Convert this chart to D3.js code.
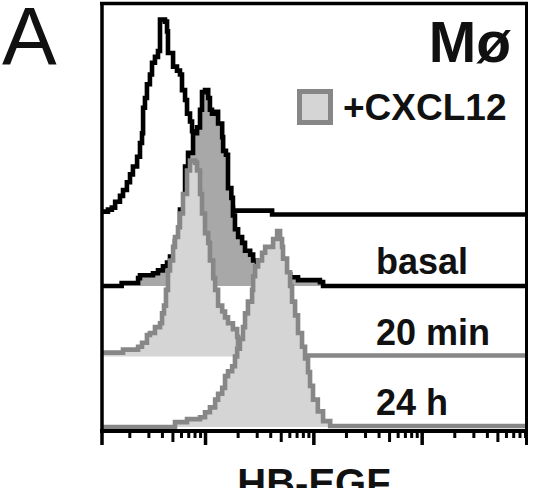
<!DOCTYPE html>
<html>
<head>
<meta charset="utf-8">
<script src="https://cdn.jsdelivr.net/npm/d3@7"></script>
<style>
body { margin: 0; background: #fff; }
text { font-family: "Liberation Sans", Arial, Helvetica, sans-serif; fill: #111; }
</style>
</head>
<body>
<div id="container"></div>
<script>
// HB-EGF intensity vs % of max
var isotype = [[1.12,2],[1.27,3],[1.38,4],[1.48,7],[1.64,10],[1.75,13],[1.90,17],[2.03,21],[2.16,25],
    [2.36,30],[2.51,37],[2.62,42],[2.68,55],[2.79,60],[2.91,67],[3.10,72],[3.24,78],[3.45,81],[3.68,84],
    [3.84,100],[4.27,99],[4.46,94],[4.55,83],[4.96,83],[5.07,76],[5.51,74],[5.87,72],[6.13,64],[6.54,59],
    [6.82,52],[7.27,48],[7.59,43],[8.09,36],[8.99,28],[10.0,20],[11.1,15],[12.4,11],[13.8,8],[15.3,5.5],
    [17.0,4],[18.1,2.5],[37.4,2.5],[41.6,0.5],[9400,0]];

var basal = [[1.12,0],[1.70,1.5],[2.41,4],[2.51,5.5],[3.31,6.5],[3.68,8],[4.09,10],[4.46,12],[4.75,15],
    [5.28,23],[5.87,39],[6.54,61],[6.97,68],[7.75,78],[8.44,81],[8.99,90],[9.38,99],[10.0,100],[10.7,96],
    [11.1,90],[11.6,88],[12.4,89],[13.2,83],[14.4,76],[14.7,69],[15.6,67],[16.3,50],[17.5,45],[18.1,36],
    [18.9,29],[20.2,25],[22.0,22],[23.4,18],[26.1,16],[27.8,13],[30.2,11],[35.9,8],[44.3,6],[61.0,4.5],
    [72.2,3],[115,2],[123,0],[9400,0]];

var min20 = [[1.12,2],[1.75,3.5],[2.41,5],[2.62,7],[2.91,11],[3.10,12],[3.45,15],[3.84,17],[4.01,22],
    [4.18,26],[4.36,34],[4.55,44],[4.75,49],[5.07,56],[5.28,61],[5.63,66],[5.87,73],[6.26,83],[6.82,95],
    [7.27,100],[8.09,99],[8.44,95],[8.99,83],[9.38,73],[10.0,63],[10.7,58],[11.1,49],[11.9,40],[12.4,34],
    [13.2,26],[14.4,23],[15.3,20],[16.3,17],[18.1,14],[19.8,10],[20.2,6.5],[21.5,3],[23.4,1],[39.8,0.5],
    [9400,0]];

var h24 = [[1.12,0],[4.96,0],[5.28,2.5],[6.82,4],[8.99,5],[10.0,7.5],[11.1,10],[12.4,14],[13.2,17],
    [14.4,20],[15.3,26],[16.3,28.5],[17.8,31],[18.9,36],[19.8,40],[21.0,45],[22.4,51],[23.4,58],[24.9,64],
    [27.2,70],[27.8,77],[29.0,82],[30.9,85],[33.6,89],[35.9,92],[39.8,92],[42.5,96],[46.3,100],[49.3,96],
    [51.4,92],[52.5,86],[57.2,79],[61.0,72],[63.6,64],[67.8,57],[72.2,48],[78.6,41],[83.8,35],[89.3,28],
    [93.2,21],[99.3,14],[110,8],[123,3],[143,0.5],[9400,0]];

var sampleLabels = ["", "basal", "20 min", "24 h"];
var decades = [1, 10, 100, 1000];
var panelLetter = "A";
var cellType = "Mø";
var legendLabel = "+CXCL12";
var xLabel = "HB-EGF";

var width = 534, height = 488;
var stackStep = 36;   // offset between stacked histograms, in % units

window.onload = function() {
    var svg = d3.select("#container").append("svg")
        .attr("width", width)
        .attr("height", height);

    var x = d3.scaleLog().domain([1, 10000]).range([96.7, 530]);
    var y = d3.scaleLinear().domain([0, 216]).range([427, 4]);

    svg.append("clipPath").attr("id", "plotclip")
        .append("rect")
        .attr("x", 102).attr("y", 4)
        .attr("width", 425).attr("height", 426);

    var series = [
        {data: isotype, fill: "#ffffff", stroke: "#000"},
        {data: basal,   fill: "#a8a8a8", stroke: "#000"},
        {data: min20,   fill: "#d5d5d5", stroke: "#878787"},
        {data: h24,     fill: "#d5d5d5", stroke: "#878787"}
    ];

    var plot = svg.append("g").attr("clip-path", "url(#plotclip)");

    series.forEach(function(s, i) {
        var off = (series.length - 1 - i) * stackStep;

        var area = d3.area()
            .curve(d3.curveStepAfter)
            .x(function(d) { return x(d[0]); })
            .y0(y(off))
            .y1(function(d) { return y(off + d[1]); });

        var line = d3.line()
            .curve(d3.curveStepAfter)
            .x(function(d) { return x(d[0]); })
            .y(function(d) { return y(off + d[1]); });

        plot.append("path")
            .datum(s.data)
            .attr("d", area)
            .style("fill", s.fill)
            .style("stroke", "none");

        plot.append("path")
            .datum(s.data)
            .attr("d", line)
            .style("fill", "none")
            .style("stroke", s.stroke)
            .style("stroke-width", 4.6)
            .style("stroke-linejoin", "miter");
    });

    // sample labels, sitting just above each baseline
    series.forEach(function(s, i) {
        var off = (series.length - 1 - i) * stackStep;
        if (!sampleLabels[i]) return;
        svg.append("text")
            .attr("x", 376)
            .attr("y", y(off) - 12)
            .style("font-size", "36px")
            .style("font-weight", "bold")
            .text(sampleLabels[i]);
    });

    // log axis ticks: decades long, 5x medium, rest short
    var tickVals = [];
    decades.forEach(function(d) {
        for (var m = 1; m < 10; m++) {
            var v = m * d;
            if (x(v) > 104 && x(v) < 526) tickVals.push(v);
        }
    });

    function mantissa(d) {
        return Math.round(d / Math.pow(10, Math.floor(Math.log10(d) + 1e-9)));
    }

    var axis = svg.append("g")
        .attr("transform", "translate(0,431)")
        .call(d3.axisBottom(x).tickValues(tickVals).tickFormat("").tickSizeOuter(0));
    axis.select(".domain").remove();
    axis.selectAll(".tick line")
        .attr("stroke", "#000")
        .attr("y2", function(d) {
            var m = mantissa(d);
            return m === 1 ? 14 : (m === 5 ? 11 : 7);
        })
        .attr("stroke-width", function(d) {
            return mantissa(d) === 1 ? 3.5 : 3;
        });

    // frame
    var frame = svg.append("g").style("stroke", "#000");
    frame.append("line").attr("x1", 102).attr("x2", 102).attr("y1", 2).attr("y2", 445).style("stroke-width", 3.5);
    frame.append("line").attr("x1", 526.5).attr("x2", 526.5).attr("y1", 2).attr("y2", 445).style("stroke-width", 3);
    frame.append("line").attr("x1", 100).attr("x2", 528).attr("y1", 3.5).attr("y2", 3.5).style("stroke-width", 3.5);
    frame.append("line").attr("x1", 100).attr("x2", 528).attr("y1", 431).attr("y2", 431).style("stroke-width", 4);

    // titles and legend
    svg.append("text")
        .attr("x", 2).attr("y", 64)
        .style("font-size", "82px")
        .text(panelLetter);

    svg.append("text")
        .attr("x", 511).attr("y", 62)
        .attr("text-anchor", "end")
        .style("font-size", "57px")
        .style("font-weight", "bold")
        .text(cellType);

    svg.append("rect")
        .attr("x", 299.5).attr("y", 91.5)
        .attr("width", 31).attr("height", 31)
        .style("fill", "#d5d5d5")
        .style("stroke", "#878787")
        .style("stroke-width", 5);

    svg.append("text")
        .attr("x", 343).attr("y", 120)
        .style("font-size", "37px")
        .style("font-weight", "bold")
        .text(legendLabel);

    svg.append("text")
        .attr("x", 314).attr("y", 497)
        .attr("text-anchor", "middle")
        .style("font-size", "40px")
        .style("font-weight", "bold")
        .text(xLabel);
}
</script>
</body>
</html>
